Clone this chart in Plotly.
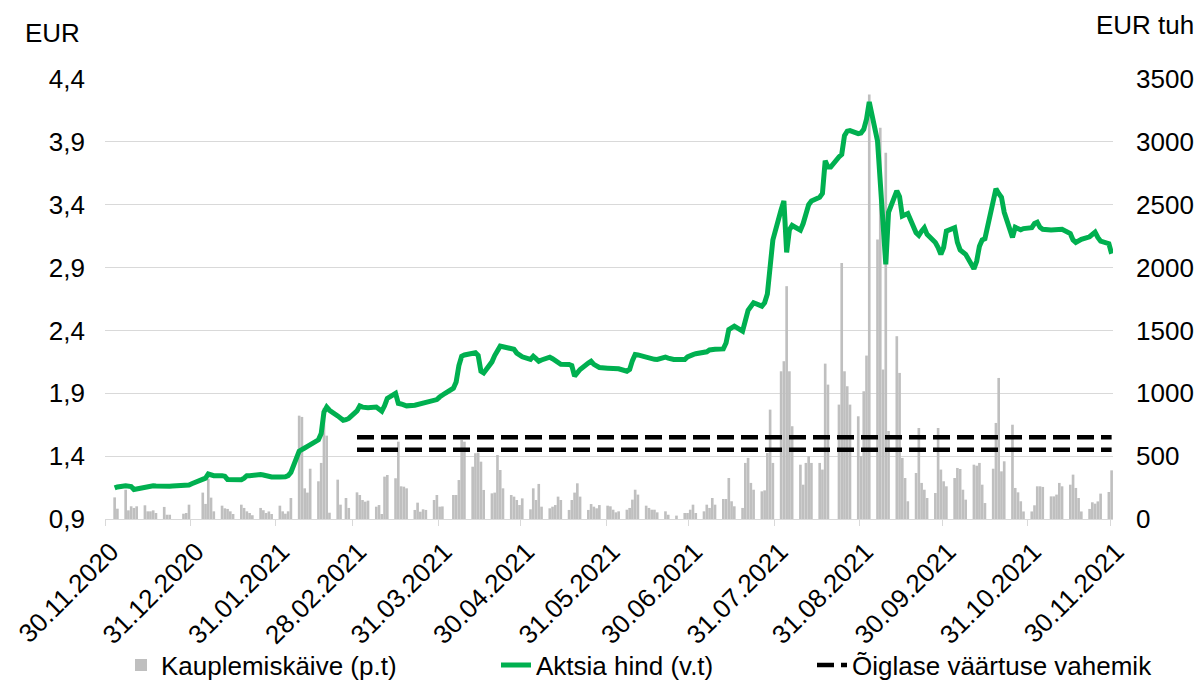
import pandas as pd
import plotly.graph_objects as go

# ---------------- data ----------------
month_ranges = [
    ("2020-12-03", "2020-12-31"),
    ("2021-01-01", "2021-01-31"),
    ("2021-02-01", "2021-02-28"),
    ("2021-03-01", "2021-03-31"),
    ("2021-04-01", "2021-04-30"),
    ("2021-05-01", "2021-05-31"),
    ("2021-06-01", "2021-06-30"),
    ("2021-07-01", "2021-07-31"),
    ("2021-08-01", "2021-08-31"),
    ("2021-09-01", "2021-09-30"),
    ("2021-10-01", "2021-10-31"),
    ("2021-11-01", "2021-11-30"),
]

# share price, EUR (left axis)
price_dec = [1.147, 1.155, 1.165, 1.163, 1.158, 1.135, 1.14, 1.155, 1.158, 1.16, 1.165,
             1.163, 1.157, 1.158, 1.16, 1.162, 1.163, 1.165, 1.165, 1.17, 1.18]
price_jan = [1.19, 1.21, 1.225, 1.258, 1.25, 1.245, 1.245, 1.24, 1.215, 1.213, 1.215,
             1.213, 1.225, 1.245, 1.245, 1.248, 1.253, 1.25, 1.245, 1.238, 1.234]
price_feb = [1.234, 1.234, 1.236, 1.245, 1.27, 1.44, 1.457, 1.465, 1.478, 1.49,
             1.53, 1.58, 1.75, 1.79, 1.765, 1.72, 1.70, 1.685, 1.69, 1.70]
price_mar = [1.76, 1.80, 1.79, 1.785, 1.785, 1.79, 1.77, 1.757, 1.80, 1.86, 1.90, 1.82,
             1.815, 1.81, 1.80, 1.805, 1.81, 1.81, 1.815, 1.82, 1.84, 1.85, 1.87]
price_apr = [1.89, 1.90, 1.94, 1.99, 2.12, 2.195, 2.205, 2.215, 2.222, 2.20, 2.076,
             2.062, 2.15, 2.20, 2.24, 2.275, 2.27, 2.262, 2.25, 2.22, 2.205, 2.19]
price_may = [2.17, 2.195, 2.175, 2.155, 2.165, 2.187, 2.175, 2.16, 2.135, 2.13, 2.129,
             2.12, 2.036, 2.06, 2.089, 2.14, 2.155, 2.13, 2.115, 2.105, 2.10]
price_jun = [2.10, 2.102, 2.10, 2.095, 2.076, 2.09, 2.16, 2.208, 2.205, 2.185, 2.18,
             2.175, 2.17, 2.169, 2.187, 2.18, 2.169, 2.169, 2.169, 2.169, 2.19, 2.205]
price_jul = [2.208, 2.215, 2.222, 2.23, 2.245, 2.25, 2.25, 2.253, 2.30, 2.407, 2.42,
             2.434, 2.394, 2.48, 2.56, 2.59, 2.62, 2.593, 2.62, 2.69, 2.95, 3.12]
price_aug = [3.36, 3.43, 3.02, 3.20, 3.235, 3.198, 3.25, 3.33, 3.40, 3.43, 3.46,
             3.49, 3.75, 3.70, 3.70, 3.78, 3.80, 3.95, 3.985, 3.99, 3.965, 3.97]
price_sep = [4.0, 4.08, 4.217, 3.907, 3.55, 3.22, 2.925, 3.34, 3.51, 3.464, 3.31,
             3.32, 3.33, 3.177, 3.156, 3.19, 3.217, 3.164, 3.10, 3.06, 3.005, 3.06]
price_oct = [3.19, 3.217, 3.10, 3.04, 3.02, 3.005, 2.89, 2.95, 3.07, 3.12, 3.13,
             3.40, 3.527, 3.49, 3.46, 3.34, 3.14, 3.22, 3.21, 3.20, 3.21]
price_nov = [3.217, 3.25, 3.26, 3.22, 3.205, 3.198, 3.20, 3.20, 3.205, 3.205, 3.17,
             3.12, 3.10, 3.118, 3.125, 3.145, 3.16, 3.182, 3.14, 3.11, 3.09, 3.01]

# trading turnover, EUR thousand (right axis)
vol_dec = [172, 82, 233, 69, 101, 88, 101, 109, 61, 61, 69, 48, 96, 34, 34, 0, 0, 42, 48, 114, 0]
vol_jan = [0, 210, 120, 320, 170, 61, 106, 85, 80, 61, 40, 114, 88, 61, 48, 30, 88, 70, 48, 60, 40]
vol_feb = [106, 61, 42, 61, 167, 822, 812, 244, 210, 400, 300, 446, 883, 663, 50, 313, 114, 0, 167, 88]
vol_mar = [212, 191, 151, 138, 146, 98, 111, 40, 337, 350, 324, 615, 260, 257, 244, 72, 130,
           58, 77, 72, 151, 191, 98]
vol_apr = [100, 0, 191, 191, 310, 629, 615, 416, 523, 528, 456, 231, 204, 210, 509, 390, 244,
           191, 178, 151, 111, 164]
vol_may = [77, 244, 151, 279, 98, 85, 98, 111, 178, 151, 72, 151, 210, 284, 178, 72, 119, 98,
           85, 111, 106]
vol_jun = [101, 74, 53, 61, 74, 88, 154, 233, 194, 106, 88, 74, 74, 53, 61, 34, 0, 0, 27, 48, 48, 74]
vol_jul = [114, 48, 61, 114, 88, 167, 114, 159, 159, 326, 141, 101, 88, 446, 486, 287, 233, 220,
           228, 525, 870, 446]
vol_aug = [1175, 1255, 1852, 1175, 738, 432, 273, 446, 499, 446, 446, 393, 1236, 1069, 0, 910,
           2037, 1175, 1056, 910, 817, 500]
vol_sep = [1016, 1300, 3377, 2223, 3112, 1189, 2913, 700, 1454, 1162, 486, 326, 141, 366, 724,
           287, 233, 167, 207, 724, 393, 300]
vol_oct = [260, 326, 406, 398, 233, 154, 432, 424, 446, 273, 127, 400, 764, 1122, 379, 459, 750,
           247, 212, 141, 60]
vol_nov = [60, 109, 260, 260, 255, 180, 180, 194, 287, 260, 273, 353, 247, 167, 60, 80, 133, 122,
           140, 202, 215, 387]

# fair value range, EUR
fair_low = 1.45
fair_high = 1.55
fair_start = "2021-03-01"
fair_end = "2021-11-30"

# axis ticks
x_tick_dates = ["2020-11-30", "2020-12-31", "2021-01-31", "2021-02-28", "2021-03-31",
                "2021-04-30", "2021-05-31", "2021-06-30", "2021-07-31", "2021-08-31",
                "2021-09-30", "2021-10-31", "2021-11-30"]
left_ticks = [0.9, 1.4, 1.9, 2.4, 2.9, 3.4, 3.9, 4.4]
left_ticktext = ["0,9", "1,4", "1,9", "2,4", "2,9", "3,4", "3,9", "4,4"]
right_ticks = [0, 500, 1000, 1500, 2000, 2500, 3000, 3500]
right_ticktext = ["0", "500", "1000", "1500", "2000", "2500", "3000", "3500"]

name_vol = "Kauplemiskäive (p.t)"
name_price = "Aktsia hind (v.t)"
name_fair = "Õiglase väärtuse vahemik"

# ---------------- build ----------------
price_months = [price_dec, price_jan, price_feb, price_mar, price_apr, price_may,
                price_jun, price_jul, price_aug, price_sep, price_oct, price_nov]
vol_months = [vol_dec, vol_jan, vol_feb, vol_mar, vol_apr, vol_may,
              vol_jun, vol_jul, vol_aug, vol_sep, vol_oct, vol_nov]

dates, price, volume = [], [], []
for (s, e), p, v in zip(month_ranges, price_months, vol_months):
    d = list(pd.bdate_range(s, e))
    assert len(d) == len(p) == len(v), (s, len(d), len(p), len(v))
    dates += d
    price += p
    volume += v

DAY = 86400000
FONT = "Liberation Sans, Arial, sans-serif"
FS = 26

fig = go.Figure()
fig.add_trace(go.Bar(
    x=dates, y=volume, name=name_vol, yaxis="y",
    xperiod=DAY, xperiodalignment="middle",
    marker=dict(color="#BFBFBF", line=dict(width=0)),
    legend="legend",
))
fig.add_trace(go.Scatter(
    x=dates, y=price, name=name_price, yaxis="y2", mode="lines",
    xperiod=DAY, xperiodalignment="middle",
    line=dict(color="#00B050", width=5),
    legend="legend2",
))
fig.add_trace(go.Scatter(
    x=[fair_start, fair_end], y=[fair_high, fair_high], name=name_fair, yaxis="y2",
    mode="lines", xperiod=DAY, xperiodalignment="middle",
    line=dict(color="#000000", width=4.5, dash="17px,7px"),
    legend="legend3",
))
fig.add_trace(go.Scatter(
    x=[fair_start, fair_end], y=[fair_low, fair_low], name=name_fair, yaxis="y2",
    mode="lines", xperiod=DAY, xperiodalignment="middle",
    line=dict(color="#000000", width=4.5, dash="17px,7px"),
    showlegend=False,
))

# page layout (the page body adds an 8 px offset to the figure)
OFF = 8
LP, TP, PW, PH = 105, 79, 1008, 440   # plot area in page pixels
W, H = 1202, 680


def px(xp):
    return (xp - LP) / PW


def py(yp):
    return (TP + PH - yp) / PH


leg_common = dict(orientation="h", yanchor="middle", xanchor="left",
                  font=dict(family=FONT, size=FS, color="#000000"),
                  bgcolor="rgba(0,0,0,0)")

ml, mt = LP - OFF, TP - OFF
fig.update_layout(
    width=W, height=H,
    margin=dict(l=ml, r=W - ml - PW, t=mt, b=H - mt - PH, autoexpand=False),
    paper_bgcolor="white", plot_bgcolor="white",
    font=dict(family=FONT, size=FS, color="#000000"),
    bargap=0.04,
    xaxis=dict(
        type="date", range=["2020-11-30", "2021-12-01"], automargin=False,
        tickvals=x_tick_dates,
        ticktext=[pd.Timestamp(t).strftime("%d.%m.%Y") for t in x_tick_dates],
        tickangle=-45, showgrid=False, zeroline=False,
        showline=True, linecolor="#D9D9D9", linewidth=1.3,
        ticks="outside", ticklen=6, tickcolor="#D9D9D9", tickwidth=1.3,
        ticklabelstandoff=0, ticklabelshift=6, ticklabeloverflow="allow",
        tickfont=dict(size=FS),
    ),
    yaxis=dict(
        side="right", range=[0, 3500], tickvals=right_ticks, ticktext=right_ticktext,
        showgrid=True, gridcolor="#D9D9D9", gridwidth=1.3, zeroline=False, automargin=False,
        showline=False, ticklabelstandoff=22, ticklabeloverflow="allow", tickfont=dict(size=FS),
    ),
    yaxis2=dict(
        side="left", overlaying="y", range=[0.9, 4.4], automargin=False,
        tickvals=left_ticks, ticktext=left_ticktext,
        showgrid=False, zeroline=False, showline=False,
        ticklabelstandoff=19, ticklabeloverflow="allow", tickfont=dict(size=FS),
    ),
    legend=dict(x=px(121), y=py(665), **leg_common),
    legend2=dict(x=px(496), y=py(665), **leg_common),
    legend3=dict(x=px(812), y=py(665), **leg_common),
    annotations=[
        dict(text="EUR", xref="paper", yref="paper", x=px(82), y=py(33),
             xanchor="right", yanchor="middle", showarrow=False,
             font=dict(family=FONT, size=FS, color="#000000")),
        dict(text="EUR tuh", xref="paper", yref="paper", x=px(1196), y=py(25),
             xanchor="right", yanchor="middle", showarrow=False,
             font=dict(family=FONT, size=FS, color="#000000")),
    ],
)

fig.write_html("out.html")
